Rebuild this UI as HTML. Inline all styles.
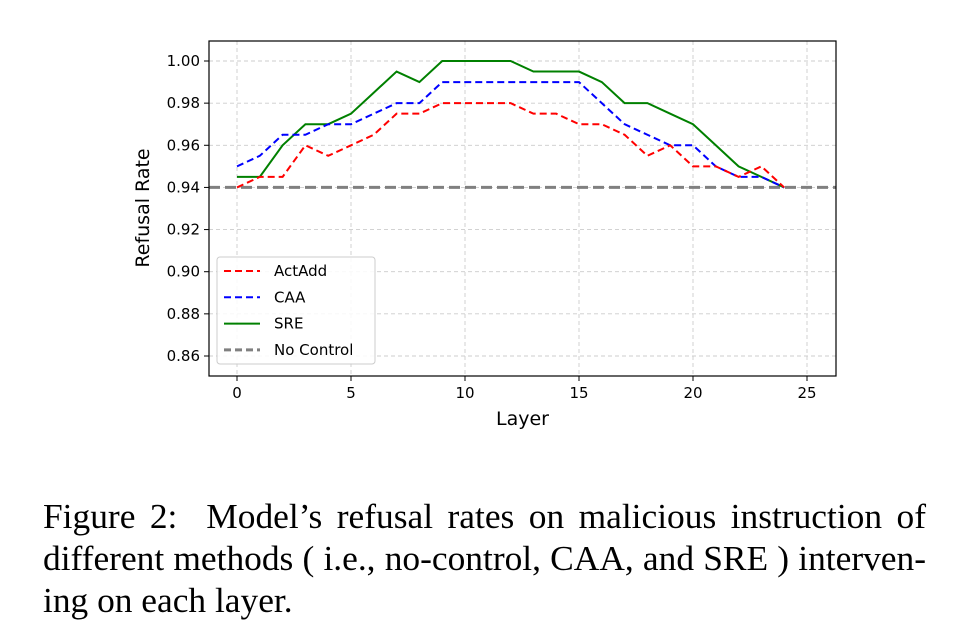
<!DOCTYPE html>
<html><head><meta charset="utf-8"><style>
body{margin:0;background:#fff;width:961px;height:640px;overflow:hidden}
.cap{position:absolute;left:43px;top:495px;font-family:"Liberation Serif",serif;font-size:35.4px;line-height:42px;color:#000;width:883px}
.ln{display:block;text-align:justify;text-align-last:justify;white-space:nowrap}
.ln.last{text-align-last:left}
</style></head><body>
<svg id="chart" width="961" height="480" style="position:absolute;left:0;top:0" font-family="DejaVu Sans, Liberation Sans, sans-serif"></svg>
<div class="cap"><span class="ln">Figure 2:&nbsp; Model’s refusal rates on malicious instruction of</span><span class="ln">different methods ( i.e., no-control, CAA, and SRE ) interven-</span><span class="ln last">ing on each layer.</span></div>
<script>
const layers=[0,1,2,3,4,5,6,7,8,9,10,11,12,13,14,15,16,17,18,19,20,21,22,23,24];
const actAdd=[.94,.945,.945,.96,.955,.96,.965,.975,.975,.98,.98,.98,.98,.975,.975,.97,.97,.965,.955,.96,.95,.95,.945,.95,.94];
const caa=[.95,.955,.965,.965,.97,.97,.975,.98,.98,.99,.99,.99,.99,.99,.99,.99,.98,.97,.965,.96,.96,.95,.945,.945,.94];
const sre=[.945,.945,.96,.97,.97,.975,.985,.995,.99,1,1,1,1,.995,.995,.995,.99,.98,.98,.975,.97,.96,.95,.945,.94];
const noControl=0.94;
const xTicks=[0,5,10,15,20,25];
const yTicks=[0.86,0.88,0.90,0.92,0.94,0.96,0.98,1.00];
const NS="http://www.w3.org/2000/svg";
const svg=document.getElementById('chart');
const L=209,R=836,T=41,B=376;
const X=v=>237+v*22.8;
const Y=v=>61+(1-v)*2107.1;
function mk(t,a,p){const e=document.createElementNS(NS,t);for(const k in a)e.setAttribute(k,a[k]);(p||svg).appendChild(e);return e;}
xTicks.forEach(v=>{
 const g=mk('line',{x1:X(v),x2:X(v),y1:T,y2:B,stroke:'#ccc','stroke-dasharray':'4,3','stroke-width':0.9});
 
 
 mk('line',{x1:X(v),x2:X(v),y1:B,y2:B+5,stroke:'#000'});
 const t=mk('text',{x:X(v),y:B+22,'text-anchor':'middle','font-size':15});t.textContent=v;
 
 
});
yTicks.forEach(v=>{
 const g=mk('line',{x1:L,x2:R,y1:Y(v),y2:Y(v),stroke:'#ccc','stroke-dasharray':'4,3','stroke-width':0.9});
 
 
 mk('line',{x1:L-5,x2:L,y1:Y(v),y2:Y(v),stroke:'#000'});
 const t=mk('text',{x:L-9,y:Y(v)+5,'text-anchor':'end','font-size':15});t.textContent=v.toFixed(2);
 
 
});
const nc=mk('line',{x1:L,x2:R,y1:Y(noControl),y2:Y(noControl),stroke:'#808080','stroke-width':3,'stroke-dasharray':'11,5'});


function series(vals,color,dash,name){
 const p=mk('polyline',{points:vals.map((v,i)=>X(layers[i])+','+Y(v)).join(' '),fill:'none',stroke:color,'stroke-width':2,'stroke-dasharray':dash||'none'});
 
 
}
series(sre,'#008000',null,'sre-line');
series(caa,'#0000ff','7,4','caa-line');
series(actAdd,'#ff0000','7,4','actadd-line');
const fr=mk('rect',{x:L,y:T,width:R-L,height:B-T,fill:'none',stroke:'#000','stroke-width':1.2});


const xl=mk('text',{x:(L+R)/2,y:425,'text-anchor':'middle','font-size':19});xl.textContent='Layer';


const yl=mk('text',{x:0,y:0,'text-anchor':'middle','font-size':19,transform:'translate(149,208) rotate(-90)'});yl.textContent='Refusal Rate';


const lg=mk('g',{});


mk('rect',{x:217,y:257,width:158,height:107,rx:3,fill:'#fff','fill-opacity':0.85,stroke:'#ccc'},lg);
const items=[['ActAdd','#ff0000','7,4',2],['CAA','#0000ff','7,4',2],['SRE','#008000','none',2],['No Control','#808080','7,4',3]];
items.forEach((it,i)=>{
 const y=271+i*26.3;
 mk('line',{x1:224,x2:260,y1:y,y2:y,stroke:it[1],'stroke-width':it[3],'stroke-dasharray':it[2]},lg);
 const t=mk('text',{x:274,y:y+5,'font-size':15},lg);t.textContent=it[0];
 
 
});
</script>
</body></html>
